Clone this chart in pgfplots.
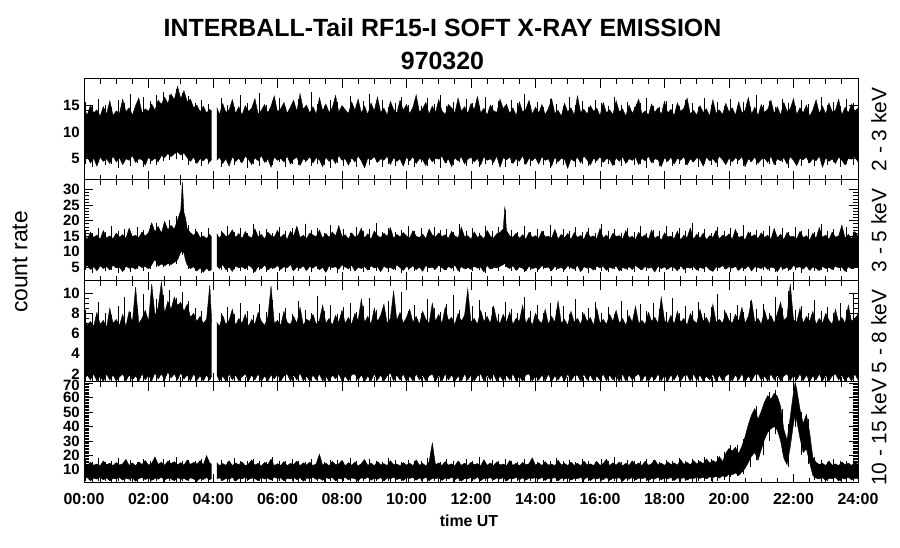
\documentclass[border=0pt]{standalone}
\usepackage{fontspec}
\setmainfont{Liberation Sans}
\usepackage{pgfplots}
\usepackage{pgfplotstable}
\usepgfplotslibrary{fillbetween}
\pgfplotsset{compat=1.18}

% ---------------- Panel 1 : 2 - 3 keV ----------------
\pgfplotstableread{
t hi lo
0.0 14.5 4.6
0.1 13.2 5.4
0.2 15.1 4.2
0.3 13.6 5.1
0.4 14.2 3.6
0.5 13.0 5.3
0.6 14.8 4.5
0.7 13.4 5.0
0.8 15.9 4.1
0.9 13.1 5.5
1.0 14.0 4.4
1.1 13.5 5.2
1.2 16.2 3.9
1.3 13.8 5.0
1.4 14.6 4.7
1.5 13.2 5.6
1.6 15.0 4.3
1.7 16.4 5.0
1.8 13.6 4.8
1.9 14.4 3.8
2.0 13.9 5.3
2.1 15.3 4.6
2.2 14.1 5.1
2.3 16.0 4.4
2.4 15.2 5.6
2.5 16.6 5.2
2.6 15.4 6.0
2.7 17.2 5.4
2.8 16.1 5.9
2.9 18.6 6.3
3.0 16.3 5.7
3.1 17.8 6.1
3.2 15.7 5.2
3.3 16.2 4.5
3.4 14.6 5.3
3.5 15.1 4.1
3.6 13.8 5.0
3.7 14.9 4.6
3.8 13.6 5.2
3.9 14.3 4.4
3.96 13.9 4.9
}\PoneA
\pgfplotstableread{
t hi lo
4.12 14.6 4.7
4.2 13.3 5.3
4.3 15.4 4.1
4.4 13.7 5.0
4.5 14.2 3.6
4.6 16.1 5.4
4.7 13.5 4.5
4.8 14.8 5.1
4.9 13.2 4.2
5.0 15.0 5.5
5.1 13.9 4.9
5.2 14.5 3.9
5.3 16.3 5.2
5.4 13.4 4.6
5.5 14.1 5.6
5.6 15.2 4.3
5.7 13.6 5.0
5.8 14.9 3.4
5.9 16.8 5.3
6.0 13.8 4.7
6.1 14.4 5.1
6.2 15.6 4.4
6.3 13.5 5.5
6.4 14.7 4.0
6.5 16.0 4.9
6.6 13.9 5.3
6.7 17.2 3.7
6.8 14.3 5.0
6.9 15.1 4.6
7.0 13.6 5.4
7.1 14.8 4.2
7.2 13.4 5.2
7.3 16.5 4.8
7.4 14.0 3.5
7.5 15.3 5.3
7.6 13.7 4.5
7.7 14.6 5.1
7.8 16.9 4.1
7.9 13.8 5.6
8.0 15.0 4.7
8.1 14.2 5.0
8.2 13.5 3.8
8.3 15.7 5.2
8.4 14.1 4.4
8.5 16.2 5.5
8.6 13.6 4.6
8.7 14.9 3.3
8.8 13.3 5.1
8.9 15.5 4.8
9.0 14.0 5.4
9.1 16.6 4.3
9.2 13.7 5.0
9.3 14.5 4.7
9.4 13.2 5.5
9.5 15.8 3.9
9.6 14.3 5.2
9.7 13.6 4.5
9.8 16.0 5.0
9.9 14.1 3.6
10.0 15.2 5.3
10.1 13.5 4.6
10.2 14.7 5.4
10.3 17.0 4.1
10.4 13.8 5.0
10.5 14.4 4.8
10.6 15.6 3.7
10.7 13.4 5.3
10.8 14.9 4.4
10.9 13.7 5.1
11.0 16.1 4.9
11.1 14.0 5.5
11.2 13.3 4.2
11.3 15.2 5.0
11.4 14.6 3.5
11.5 13.6 5.2
11.6 16.4 4.6
11.7 13.9 5.4
11.8 14.8 4.0
11.9 13.5 4.9
12.0 15.4 5.3
12.1 14.2 4.4
12.2 16.7 5.1
12.3 13.6 3.8
12.4 14.5 5.4
12.5 13.2 4.7
12.6 15.1 5.0
12.7 14.0 4.3
12.8 13.7 5.5
12.9 16.2 3.4
13.0 14.4 5.2
13.1 15.3 4.8
13.2 13.5 5.3
13.3 14.6 4.1
13.4 13.1 5.0
13.5 15.7 4.5
13.6 13.8 5.6
13.7 14.3 3.9
13.8 16.0 5.1
13.9 13.4 4.6
14.0 14.7 5.2
14.1 13.6 4.0
14.2 15.2 5.4
14.3 13.3 4.7
14.4 14.4 5.0
14.5 16.3 3.6
14.6 13.5 5.3
14.7 14.1 4.4
14.8 13.0 5.1
14.9 15.4 4.9
15.0 13.8 3.2
15.1 14.6 5.0
15.2 13.2 4.5
15.3 16.8 5.3
15.4 13.7 4.2
15.5 14.3 5.5
15.6 13.4 4.8
15.7 15.0 3.8
15.8 13.9 5.1
15.9 14.5 4.6
16.0 13.1 5.4
16.1 15.6 4.3
16.2 13.6 5.0
16.3 14.2 4.9
16.4 13.3 3.7
16.5 15.9 5.2
16.6 13.8 4.5
16.7 14.4 5.4
16.8 13.0 4.1
16.9 15.1 5.0
17.0 13.5 4.7
17.1 14.7 5.3
17.2 16.2 3.9
17.3 13.4 5.1
17.4 14.0 4.6
17.5 13.2 5.5
17.6 15.3 4.2
17.7 13.7 5.0
17.8 14.6 4.8
17.9 13.3 3.5
18.0 15.8 5.2
18.1 13.6 4.5
18.2 14.3 5.3
18.3 13.1 4.0
18.4 15.5 5.1
18.5 13.9 4.7
18.6 14.5 5.4
18.7 16.4 3.8
18.8 13.4 5.0
18.9 14.1 4.4
19.0 13.2 5.2
19.1 15.0 4.9
19.2 13.7 3.6
19.3 14.4 5.3
19.4 13.0 4.6
19.5 16.1 5.0
19.6 13.5 4.2
19.7 14.2 5.5
19.8 13.3 4.8
19.9 15.4 3.9
20.0 13.8 5.1
20.1 14.6 4.4
20.2 13.2 5.2
20.3 15.7 4.7
20.4 13.6 5.4
20.5 14.1 3.5
20.6 16.5 5.0
20.7 13.4 4.5
20.8 14.7 5.3
20.9 13.1 4.1
21.0 15.2 4.9
21.1 13.7 5.1
21.2 14.3 4.3
21.3 16.0 5.5
21.4 13.5 3.9
21.5 14.8 5.0
21.6 13.2 4.6
21.7 15.6 5.2
21.8 13.9 4.0
21.9 14.4 5.4
22.0 16.3 4.7
22.1 13.3 3.7
22.2 14.6 5.1
22.3 13.6 4.8
22.4 15.1 5.3
22.5 13.0 4.2
22.6 14.2 5.0
22.7 16.1 4.6
22.8 13.5 5.5
22.9 14.9 3.4
23.0 13.4 5.2
23.1 15.5 4.5
23.2 13.8 5.0
23.3 14.1 4.1
23.4 16.2 5.3
23.5 13.2 4.7
23.6 14.7 3.8
23.7 13.6 5.1
23.8 15.3 4.9
23.9 13.9 5.4
24.0 14.5 4.4
}\PoneB
\pgfplotstableread{
t up dn
0.05 15.6 4.0
0.25 14.9 3.4
0.45 16.3 4.3
0.65 15.2 3.8
0.85 14.7 4.1
1.05 16.0 3.2
1.25 15.4 4.4
1.45 17.1 3.7
1.65 15.0 4.2
1.85 16.6 3.5
2.05 15.8 4.0
2.25 17.0 3.9
2.45 17.6 4.6
2.65 16.9 4.8
2.85 18.2 5.0
3.05 17.4 4.7
3.25 16.8 3.9
3.45 15.5 4.2
3.65 16.1 3.6
3.85 15.3 4.0
4.25 16.4 3.5
4.45 15.1 4.2
4.65 14.8 3.8
4.85 16.9 4.4
5.05 15.5 3.3
5.25 14.9 4.1
5.45 17.3 3.7
5.65 15.2 4.3
5.85 15.9 3.9
6.05 16.5 4.4
6.25 14.8 3.4
6.45 15.7 4.0
6.65 16.2 3.8
6.85 15.0 4.3
7.05 17.5 3.6
7.25 15.3 4.1
7.45 14.9 3.9
7.65 16.0 3.3
7.85 15.6 4.2
8.05 14.7 3.7
8.25 16.8 4.4
8.45 15.2 3.5
8.65 15.9 4.0
8.85 17.2 3.8
9.05 15.0 4.3
9.25 16.1 3.4
9.45 14.8 4.1
9.65 15.5 3.6
9.85 16.7 4.2
10.05 15.1 3.9
10.25 15.8 3.5
10.45 14.9 4.3
10.65 16.4 3.7
10.85 15.3 4.0
11.05 17.0 3.3
11.25 15.0 4.2
11.45 15.7 3.8
11.65 14.8 4.4
11.85 16.3 3.6
12.05 15.4 4.1
12.25 14.9 3.5
12.45 16.6 4.0
12.65 15.2 3.9
12.85 15.8 4.3
13.05 14.7 3.4
13.25 16.1 4.2
13.45 15.5 3.7
13.65 17.1 4.0
13.85 15.0 3.6
14.05 15.6 4.3
14.25 14.8 3.9
14.45 16.2 3.3
14.65 15.3 4.1
14.85 14.9 3.8
15.05 16.6 4.4
15.25 15.1 3.5
15.45 15.8 4.0
15.65 14.7 3.7
15.85 16.0 4.2
16.05 15.4 3.4
16.25 14.9 4.1
16.45 16.7 3.9
16.65 15.2 3.6
16.85 15.7 4.3
17.05 14.8 3.8
17.25 15.5 4.0
17.45 16.4 3.3
17.65 15.0 4.2
17.85 14.7 3.7
18.05 15.9 4.4
18.25 15.3 3.6
18.45 14.9 4.0
18.65 16.1 3.8
18.85 15.4 4.3
19.05 14.8 3.5
19.25 16.5 4.1
19.45 15.1 3.9
19.65 15.7 3.4
19.85 14.9 4.2
20.05 16.2 3.7
20.25 15.0 4.0
20.45 15.6 3.6
20.65 14.8 4.3
20.85 16.9 3.8
21.05 15.2 3.5
21.25 15.8 4.1
21.45 14.7 3.9
21.65 16.3 4.4
21.85 15.5 3.3
22.05 14.9 4.0
22.25 16.0 3.7
22.45 15.3 4.2
22.65 14.8 3.6
22.85 16.6 4.0
23.05 15.1 3.8
23.25 15.7 4.3
23.45 14.9 3.5
23.65 16.2 4.1
23.85 15.4 3.9
}\PoneS

% ---------------- Panel 2 : 3 - 5 keV ----------------
\pgfplotstableread{
t hi lo
0.0 15.2 4.9
0.1 14.1 5.6
0.2 16.3 4.3
0.3 14.6 5.2
0.4 15.4 3.9
0.5 14.0 5.5
0.6 16.8 4.6
0.7 14.4 5.3
0.8 15.1 4.1
0.9 14.2 5.7
1.0 16.0 4.8
1.1 14.7 5.1
1.2 15.5 3.6
1.3 14.3 5.4
1.4 17.6 4.7
1.5 14.9 5.0
1.6 15.3 4.4
1.7 14.5 5.6
1.8 16.4 4.9
1.9 15.0 5.3
2.0 16.1 4.5
2.1 19.3 5.8
2.2 16.4 7.6
2.3 18.2 5.4
2.4 16.0 6.1
2.5 19.8 5.5
2.6 17.1 6.2
2.7 18.5 5.9
2.8 17.3 6.6
2.9 20.2 7.4
3.0 23.4 9.8
3.05 32.5 10.2
3.1 22.6 9.6
3.15 20.8 7.2
3.2 17.4 5.8
3.3 16.1 4.6
3.4 15.3 5.2
3.5 16.6 3.8
3.6 14.5 4.9
3.7 15.1 3.4
3.8 14.2 4.7
3.9 15.6 3.9
3.96 14.6 4.5
}\PtwoA
\pgfplotstableread{
t hi lo
4.12 15.8 5.4
4.2 14.3 4.6
4.3 16.2 5.9
4.4 14.9 4.2
4.5 15.4 5.1
4.6 17.1 3.7
4.7 14.6 5.5
4.8 15.9 4.8
4.9 14.2 5.2
5.0 16.5 4.4
5.1 15.0 5.7
5.2 14.4 4.9
5.3 17.4 3.5
5.4 14.8 5.3
5.5 15.6 4.5
5.6 14.1 5.8
5.7 16.3 4.1
5.8 15.2 5.0
5.9 14.7 4.7
6.0 16.9 5.6
6.1 14.5 4.3
6.2 15.7 5.2
6.3 14.0 4.8
6.4 16.6 5.9
6.5 15.1 3.9
6.6 18.2 5.1
6.7 14.6 4.6
6.8 15.3 5.5
6.9 14.2 4.0
7.0 16.0 5.3
7.1 15.4 4.7
7.2 14.8 5.6
7.3 17.0 4.2
7.4 14.3 5.0
7.5 15.9 3.4
7.6 14.6 5.4
7.7 16.4 4.9
7.8 15.0 5.2
7.9 18.4 4.4
8.0 14.9 5.8
8.1 15.5 5.1
8.2 14.1 4.5
8.3 16.1 5.7
8.4 14.7 3.8
8.5 15.3 5.0
8.6 17.6 4.6
8.7 14.4 5.3
8.8 15.8 4.1
8.9 14.0 5.5
9.0 16.7 4.8
9.1 15.2 5.2
9.2 14.5 3.6
9.3 16.0 5.4
9.4 14.9 4.7
9.5 17.8 5.0
9.6 14.3 4.3
9.7 15.6 5.8
9.8 14.8 4.9
9.9 16.2 4.0
10.0 15.1 5.3
10.1 14.4 4.6
10.2 16.8 5.5
10.3 15.0 4.2
10.4 14.6 5.1
10.5 15.7 3.7
10.6 14.2 5.6
10.7 17.3 4.8
10.8 15.4 5.0
10.9 14.7 4.4
11.0 16.1 5.7
11.1 14.9 4.9
11.2 15.5 4.1
11.3 14.3 5.3
11.4 16.6 4.6
11.5 15.1 5.8
11.6 14.5 3.9
11.7 17.9 5.2
11.8 14.8 4.5
11.9 15.2 5.0
12.0 14.0 4.3
12.1 16.4 5.4
12.2 14.6 4.7
12.3 15.3 5.1
12.4 14.1 3.5
12.5 16.9 5.6
12.6 15.0 4.4
12.7 14.4 5.0
12.8 15.8 4.8
12.9 16.2 5.3
13.0 17.4 5.9
13.05 24.6 6.4
13.1 16.8 5.2
13.2 15.1 4.6
13.3 14.7 5.5
13.4 16.0 4.0
13.5 14.3 5.1
13.6 15.5 4.7
13.7 14.0 3.8
13.8 16.3 5.4
13.9 14.6 4.5
14.0 15.2 5.0
14.1 14.2 4.3
14.2 16.7 5.6
14.3 14.8 4.8
14.4 15.0 5.1
14.5 14.4 3.9
14.6 17.2 5.3
14.7 14.1 4.6
14.8 15.6 5.0
14.9 14.5 4.2
15.0 15.9 5.5
15.1 14.0 4.9
15.2 16.2 4.4
15.3 14.6 5.7
15.4 15.3 3.6
15.5 13.9 5.2
15.6 16.5 4.7
15.7 14.7 5.0
15.8 15.1 4.1
15.9 14.2 5.4
16.0 17.5 4.8
16.1 14.4 5.3
16.2 15.4 4.0
16.3 13.8 5.1
16.4 16.0 4.6
16.5 14.9 5.5
16.6 15.2 3.8
16.7 14.1 5.0
16.8 16.8 4.5
16.9 14.5 5.2
17.0 15.0 4.3
17.1 13.9 5.6
17.2 16.3 4.8
17.3 14.6 4.2
17.4 15.5 5.3
17.5 14.0 4.7
17.6 17.0 5.0
17.7 14.3 3.5
17.8 15.1 5.4
17.9 13.7 4.6
18.0 16.1 5.1
18.1 14.8 4.4
18.2 15.0 5.2
18.3 14.2 4.9
18.4 16.6 3.9
18.5 13.8 5.5
18.6 15.3 4.3
18.7 14.5 5.0
18.8 17.6 4.7
18.9 14.0 5.3
19.0 15.7 4.1
19.1 14.3 5.0
19.2 16.0 4.6
19.3 13.9 5.4
19.4 15.2 4.2
19.5 14.6 3.7
19.6 16.9 5.1
19.7 14.1 4.8
19.8 15.4 5.6
19.9 14.7 4.4
20.0 15.8 5.2
20.1 14.0 4.7
20.2 17.2 5.3
20.3 14.5 4.0
20.4 15.1 5.0
20.5 13.8 4.5
20.6 16.4 5.5
20.7 14.9 3.8
20.8 15.5 5.2
20.9 14.2 4.9
21.0 16.1 4.6
21.1 14.6 5.4
21.2 15.3 4.3
21.3 14.0 5.1
21.4 17.5 4.8
21.5 14.4 3.6
21.6 15.7 5.3
21.7 13.9 4.5
21.8 16.2 5.0
21.9 14.8 4.2
22.0 15.0 5.6
22.1 14.1 4.9
22.2 16.6 5.2
22.3 14.5 4.4
22.4 15.2 5.5
22.5 13.7 4.0
22.6 16.0 5.1
22.7 14.3 4.7
22.8 17.8 3.9
22.9 14.6 5.3
23.0 15.4 4.6
23.1 14.0 5.0
23.2 16.3 4.3
23.3 14.7 5.4
23.4 15.1 4.8
23.5 18.6 5.1
23.6 14.4 3.7
23.7 15.6 5.2
23.8 14.2 4.5
23.9 16.5 5.0
24.0 15.0 4.9
}\PtwoB
\pgfplotstableread{
t up dn
0.05 17.1 4.0
0.25 16.2 3.3
0.45 17.8 4.4
0.65 16.5 3.8
0.85 18.3 4.1
1.05 16.8 3.2
1.25 17.4 4.2
1.45 16.1 3.6
1.65 18.0 4.3
1.85 16.9 3.9
2.05 18.6 4.5
2.25 19.4 5.2
2.45 18.1 5.0
2.65 20.3 5.4
2.85 21.5 6.0
3.05 26.0 9.0
3.25 18.5 4.5
3.45 17.2 3.7
3.65 16.4 3.1
3.85 17.6 3.9
4.25 16.7 4.0
4.45 18.2 3.4
4.65 16.3 4.3
4.85 17.5 3.8
5.05 16.0 4.1
5.25 18.8 3.3
5.45 16.6 4.2
5.65 17.3 3.6
5.85 16.1 4.4
6.05 18.0 3.9
6.25 16.8 3.5
6.45 17.6 4.2
6.65 16.4 3.7
6.85 19.1 4.0
7.05 16.9 3.4
7.25 17.7 4.3
7.45 16.2 3.8
7.65 18.5 4.1
7.85 16.7 3.2
8.05 17.4 4.2
8.25 16.0 3.7
8.45 18.1 4.4
8.65 16.6 3.5
8.85 17.2 4.0
9.05 19.3 3.9
9.25 16.5 4.3
9.45 17.8 3.6
9.65 16.3 4.1
9.85 17.0 3.3
10.05 18.4 4.2
10.25 16.7 3.8
10.45 17.5 4.4
10.65 16.1 3.6
10.85 18.0 4.0
11.05 16.9 3.4
11.25 17.3 4.2
11.45 16.4 3.9
11.65 19.0 3.5
11.85 16.8 4.3
12.05 17.6 3.7
12.25 16.2 4.1
12.45 18.3 3.3
12.65 16.6 4.4
12.85 17.9 3.8
13.05 23.5 5.0
13.25 17.1 3.9
13.45 16.5 4.2
13.65 18.2 3.6
13.85 16.3 4.0
14.05 17.4 3.4
14.25 16.8 4.3
14.45 18.7 3.8
14.65 16.1 4.1
14.85 17.2 3.5
15.05 16.6 4.4
15.25 18.0 3.7
15.45 16.4 4.0
15.65 17.5 3.3
15.85 16.0 4.2
16.05 18.9 3.9
16.25 16.7 3.6
16.45 17.3 4.3
16.65 16.2 3.8
16.85 17.8 4.1
17.05 16.5 3.4
17.25 18.4 4.2
17.45 16.1 3.7
17.65 17.0 4.4
17.85 16.6 3.5
18.05 18.2 4.0
18.25 16.3 3.8
18.45 17.6 4.3
18.65 16.8 3.3
18.85 19.2 4.1
19.05 16.4 3.9
19.25 17.3 3.6
19.45 16.0 4.2
19.65 18.1 3.7
19.85 16.7 4.4
20.05 17.5 3.4
20.25 16.2 4.0
20.45 18.6 3.8
20.65 16.5 4.3
20.85 17.1 3.5
21.05 16.8 4.1
21.25 18.3 3.9
21.45 16.1 3.6
21.65 17.7 4.2
21.85 16.4 3.7
22.05 18.0 4.0
22.25 16.6 3.3
22.45 17.2 4.4
22.65 16.3 3.8
22.85 18.8 4.1
23.05 16.7 3.5
23.25 17.4 4.2
23.45 16.0 3.9
23.65 17.9 3.6
23.85 16.5 4.3
}\PtwoS

% ---------------- Panel 3 : 5 - 8 keV ----------------
\pgfplotstableread{
t hi lo
0.0 7.6 1.3
0.1 6.8 1.9
0.2 7.2 1.4
0.3 6.7 2.0
0.4 8.1 1.3
0.5 6.9 1.8
0.6 7.3 1.25
0.7 6.6 2.0
0.8 8.5 1.4
0.9 7.0 1.9
1.0 7.4 1.3
1.1 6.8 1.7
1.2 7.9 2.0
1.3 6.7 1.3
1.4 8.2 1.9
1.5 7.1 1.4
1.6 10.6 1.8
1.7 7.0 1.3
1.8 7.5 2.0
1.9 8.3 1.4
2.0 7.2 1.9
2.1 10.9 1.3
2.2 7.8 2.1
2.3 8.6 1.5
2.4 11.1 2.0
2.5 8.0 1.4
2.6 9.2 2.2
2.7 8.4 1.6
2.8 9.6 2.0
2.9 8.8 1.4
3.0 9.1 2.1
3.1 8.2 1.5
3.2 8.9 1.9
3.3 7.6 1.3
3.4 8.0 2.0
3.5 7.2 1.4
3.6 7.7 1.8
3.7 7.0 1.3
3.8 7.4 1.9
3.9 10.8 1.4
3.96 7.1 1.8
}\PthreeA
\pgfplotstableread{
t hi lo
4.12 7.1 1.9
4.2 6.7 1.3
4.3 7.8 1.8
4.4 6.9 1.25
4.5 7.3 2.0
4.6 8.4 1.4
4.7 6.8 1.9
4.8 7.5 1.3
4.9 7.0 1.7
5.0 7.9 2.0
5.1 6.7 1.3
5.2 7.4 1.9
5.3 6.9 1.4
5.4 8.1 2.0
5.5 7.2 1.25
5.6 6.8 1.8
5.7 7.6 1.3
5.8 10.7 1.9
5.9 7.0 1.5
6.0 7.3 2.0
6.1 6.8 1.3
6.2 8.2 1.8
6.3 7.1 2.0
6.4 6.9 1.3
6.5 7.7 1.9
6.6 7.0 1.4
6.7 8.6 2.1
6.8 6.8 1.3
6.9 7.4 1.8
7.0 7.2 1.25
7.1 7.9 1.9
7.2 6.9 1.4
7.3 7.3 2.0
7.4 8.8 1.3
7.5 7.0 1.8
7.6 7.5 1.25
7.7 6.8 1.9
7.8 7.8 1.5
7.9 7.1 2.0
8.0 8.3 1.3
8.1 7.0 1.8
8.2 7.6 1.3
8.3 6.9 1.9
8.4 8.0 2.0
8.5 7.3 1.4
8.6 9.4 1.9
8.7 7.1 1.25
8.8 7.7 1.8
8.9 6.9 1.3
9.0 8.5 2.0
9.1 7.2 1.4
9.2 7.8 1.9
9.3 8.9 1.3
9.4 7.0 1.8
9.5 7.5 2.1
9.6 10.2 1.3
9.7 7.3 1.9
9.8 8.1 1.4
9.9 7.0 2.0
10.0 7.6 1.25
10.1 8.4 1.8
10.2 7.1 1.3
10.3 7.7 2.0
10.4 6.9 1.4
10.5 8.2 1.9
10.6 7.4 1.3
10.7 7.0 1.8
10.8 9.0 2.0
10.9 7.2 1.25
11.0 7.9 1.9
11.1 7.0 1.3
11.2 8.6 2.0
11.3 7.3 1.4
11.4 7.6 1.9
11.5 6.9 1.3
11.6 8.0 1.8
11.7 7.2 1.25
11.8 7.8 2.0
11.9 10.4 1.4
12.0 7.1 1.9
12.1 7.5 1.3
12.2 6.9 1.8
12.3 8.3 2.0
12.4 7.2 1.3
12.5 7.7 1.9
12.6 7.0 1.4
12.7 8.7 2.0
12.8 7.3 1.25
12.9 7.0 1.8
13.0 7.9 1.3
13.1 7.1 1.9
13.2 8.1 1.4
13.3 6.9 2.0
13.4 7.5 1.3
13.5 7.2 1.8
13.6 8.8 1.25
13.7 7.0 1.9
13.8 7.6 2.0
13.9 6.8 1.3
14.0 8.0 1.8
14.1 7.3 1.4
14.2 7.0 1.9
14.3 8.4 1.3
14.4 6.9 2.0
14.5 7.7 1.25
14.6 7.1 1.8
14.7 9.2 1.4
14.8 7.0 1.9
14.9 7.4 1.3
15.0 6.8 2.0
15.1 8.2 1.3
15.2 7.1 1.8
15.3 7.5 1.9
15.4 6.9 1.25
15.5 8.0 2.0
15.6 7.2 1.4
15.7 7.6 1.9
15.8 6.8 1.3
15.9 8.5 1.8
16.0 7.0 1.4
16.1 7.4 2.0
16.2 6.9 1.3
16.3 7.9 1.9
16.4 7.2 1.4
16.5 8.3 1.8
16.6 7.0 1.25
16.7 7.5 2.0
16.8 6.8 1.3
16.9 7.8 1.9
17.0 7.1 1.4
17.1 8.7 1.8
17.2 7.0 2.0
17.3 7.3 1.3
17.4 6.9 1.9
17.5 8.1 1.25
17.6 7.2 1.8
17.7 7.6 1.4
17.8 7.0 2.0
17.9 9.6 1.3
18.0 7.3 1.9
18.1 7.0 1.3
18.2 7.8 1.9
18.3 6.9 1.4
18.4 8.2 2.0
18.5 7.1 1.3
18.6 7.5 1.8
18.7 6.8 1.9
18.8 8.0 1.25
18.9 7.3 2.0
19.0 7.0 1.4
19.1 8.4 1.9
19.2 7.2 1.3
19.3 7.6 1.8
19.4 6.9 1.4
19.5 8.9 2.0
19.6 7.1 1.25
19.7 7.4 1.9
19.8 7.0 1.3
19.9 8.1 1.8
20.0 7.3 2.0
20.1 7.0 1.3
20.2 7.9 1.9
20.3 7.2 1.4
20.4 8.6 2.0
20.5 7.0 1.25
20.6 7.7 1.8
20.7 9.3 1.3
20.8 7.1 1.9
20.9 7.5 2.0
21.0 6.9 1.4
21.1 8.3 1.8
21.2 7.2 1.3
21.3 7.8 2.0
21.4 7.0 1.4
21.5 8.0 1.9
21.6 9.1 1.25
21.7 7.3 1.8
21.8 7.6 2.0
21.9 10.9 1.3
22.0 7.4 1.9
22.1 7.1 1.4
22.2 8.5 2.0
22.3 7.0 1.3
22.4 7.7 1.9
22.5 7.2 1.25
22.6 8.2 1.8
22.7 6.9 1.4
22.8 7.5 2.0
22.9 7.0 1.3
23.0 8.0 1.9
23.1 7.3 1.3
23.2 6.9 1.8
23.3 8.4 2.0
23.4 7.1 1.4
23.5 7.6 1.9
23.6 7.0 1.25
23.7 8.8 1.8
23.8 7.2 1.3
23.9 7.5 2.0
24.0 7.9 1.4
}\PthreeB
\pgfplotstableread{
t up dn
0.05 8.3 1.2
0.25 7.9 1.2
0.45 9.1 1.2
0.65 8.0 1.2
0.85 7.8 1.2
1.05 8.7 1.2
1.25 9.6 1.2
1.45 8.1 1.2
1.65 8.4 1.2
1.85 9.9 1.2
2.05 8.6 1.2
2.25 9.4 1.2
2.45 9.8 1.2
2.65 10.3 1.2
2.85 9.5 1.2
3.05 10.1 1.2
3.25 9.2 1.2
3.45 8.5 1.2
3.65 8.2 1.2
3.85 8.8 1.2
4.25 8.0 1.2
4.45 8.6 1.2
4.65 7.9 1.2
4.85 9.0 1.2
5.05 8.2 1.2
5.25 7.8 1.2
5.45 8.9 1.2
5.65 8.1 1.2
5.85 9.3 1.2
6.05 8.0 1.2
6.25 8.5 1.2
6.45 7.9 1.2
6.65 9.2 1.2
6.85 8.3 1.2
7.05 8.0 1.2
7.25 9.7 1.2
7.45 8.2 1.2
7.65 8.8 1.2
7.85 7.9 1.2
8.05 8.6 1.2
8.25 9.0 1.2
8.45 8.1 1.2
8.65 8.7 1.2
8.85 9.5 1.2
9.05 8.3 1.2
9.25 8.0 1.2
9.45 9.2 1.2
9.65 8.4 1.2
9.85 10.1 1.2
10.05 8.2 1.2
10.25 8.8 1.2
10.45 8.0 1.2
10.65 9.4 1.2
10.85 8.5 1.2
11.05 8.1 1.2
11.25 8.9 1.2
11.45 9.8 1.2
11.65 8.3 1.2
11.85 8.0 1.2
12.05 8.7 1.2
12.25 9.3 1.2
12.45 8.1 1.2
12.65 8.6 1.2
12.85 7.9 1.2
13.05 9.1 1.2
13.25 8.4 1.2
13.45 8.0 1.2
13.65 9.6 1.2
13.85 8.2 1.2
14.05 8.8 1.2
14.25 8.0 1.2
14.45 9.0 1.2
14.65 8.3 1.2
14.85 8.7 1.2
15.05 7.9 1.2
15.25 9.4 1.2
15.45 8.1 1.2
15.65 8.5 1.2
15.85 9.1 1.2
16.05 8.0 1.2
16.25 8.6 1.2
16.45 7.9 1.2
16.65 9.2 1.2
16.85 8.3 1.2
17.05 8.0 1.2
17.25 8.9 1.2
17.45 8.2 1.2
17.65 9.0 1.2
17.85 8.4 1.2
18.05 8.1 1.2
18.25 9.5 1.2
18.45 8.0 1.2
18.65 8.7 1.2
18.85 8.2 1.2
19.05 9.1 1.2
19.25 8.0 1.2
19.45 8.6 1.2
19.65 9.9 1.2
19.85 8.3 1.2
20.05 8.0 1.2
20.25 8.8 1.2
20.45 8.1 1.2
20.65 9.2 1.2
20.85 8.4 1.2
21.05 8.9 1.2
21.25 8.0 1.2
21.45 9.6 1.2
21.65 8.5 1.2
21.85 10.2 1.2
22.05 8.3 1.2
22.25 8.7 1.2
22.45 8.0 1.2
22.65 9.3 1.2
22.85 8.2 1.2
23.05 8.6 1.2
23.25 8.0 1.2
23.45 9.0 1.2
23.65 8.3 1.2
23.85 10.0 1.2
}\PthreeS

% ---------------- Panel 4 : 10 - 15 keV ----------------
\pgfplotstableread{
t hi lo
0.0 14.2 3.8
0.1 12.6 4.6
0.2 15.3 2.4
0.3 13.1 4.2
0.4 14.0 3.5
0.5 12.8 4.8
0.6 16.1 3.0
0.7 13.4 4.4
0.8 14.6 2.2
0.9 12.9 4.0
1.0 15.0 3.6
1.1 13.3 4.7
1.2 14.1 2.8
1.3 17.2 4.1
1.4 13.0 3.4
1.5 14.8 4.5
1.6 12.7 2.0
1.7 15.5 3.9
1.8 13.6 4.6
1.9 16.4 3.2
2.0 13.2 4.3
2.1 14.5 2.6
2.2 18.9 4.0
2.3 13.8 3.5
2.4 15.2 4.8
2.5 13.1 2.9
2.6 16.0 4.2
2.7 14.3 3.7
2.8 15.6 2.3
2.9 13.5 4.5
3.0 14.9 3.3
3.1 13.2 4.1
3.2 16.7 2.7
3.3 13.7 4.4
3.4 15.1 3.6
3.5 14.0 2.1
3.6 16.3 4.0
3.7 13.4 3.2
3.8 19.8 4.6
3.9 14.6 3.0
3.96 13.9 4.1
}\PfourA
\pgfplotstableread{
t hi lo
4.12 15.0 3.7
4.2 12.8 4.5
4.3 14.3 2.5
4.4 13.1 4.1
4.5 16.2 3.4
4.6 12.9 4.7
4.7 14.7 2.1
4.8 13.4 4.0
4.9 15.5 3.6
5.0 12.7 4.8
5.1 14.0 3.2
5.2 16.8 4.3
5.3 13.2 3.8
5.4 14.5 2.4
5.5 12.6 4.6
5.6 15.1 3.5
5.7 13.5 4.2
5.8 17.4 2.8
5.9 12.9 4.9
6.0 14.2 3.9
6.1 13.0 4.4
6.2 15.7 2.3
6.3 12.8 4.0
6.4 14.4 3.6
6.5 13.6 4.7
6.6 16.0 3.1
6.7 12.7 4.5
6.8 14.8 2.0
6.9 13.3 4.2
7.0 15.2 3.7
7.1 12.9 4.8
7.2 14.1 3.3
7.3 20.8 4.1
7.4 13.2 2.6
7.5 14.6 4.4
7.6 12.8 3.9
7.7 15.8 4.6
7.8 13.4 2.2
7.9 14.0 4.0
8.0 16.5 3.5
8.1 12.7 4.7
8.2 14.9 3.0
8.3 13.1 4.3
8.4 15.4 3.8
8.5 12.6 2.4
8.6 14.3 4.5
8.7 17.1 3.6
8.8 13.0 4.9
8.9 14.7 2.7
9.0 12.8 4.1
9.1 15.6 3.4
9.2 13.3 4.6
9.3 14.2 2.1
9.4 12.9 4.2
9.5 16.3 3.7
9.6 13.5 4.8
9.7 14.0 3.2
9.8 12.7 4.0
9.9 15.0 2.5
10.0 13.2 4.4
10.1 14.5 3.9
10.2 12.8 4.7
10.3 16.9 2.8
10.4 13.1 4.3
10.5 14.4 3.5
10.6 12.6 4.9
10.7 15.3 2.3
10.8 28.6 4.1
10.9 13.4 3.8
11.0 14.8 4.5
11.1 12.9 2.6
11.2 15.7 4.2
11.3 13.2 3.6
11.4 14.1 4.8
11.5 12.7 3.1
11.6 16.1 4.4
11.7 13.0 2.0
11.8 14.6 4.0
11.9 12.8 3.7
12.0 15.2 4.6
12.1 13.5 3.3
12.2 14.3 4.9
12.3 12.6 2.4
12.4 17.0 4.1
12.5 13.1 3.8
12.6 14.7 4.5
12.7 12.9 2.9
12.8 15.5 4.3
12.9 13.3 3.5
13.0 14.0 4.7
13.1 12.7 2.2
13.2 16.4 4.0
13.3 13.0 3.6
13.4 14.5 4.8
13.5 12.8 3.0
13.6 15.1 4.4
13.7 13.4 2.7
13.8 14.2 4.2
13.9 18.2 3.9
14.0 13.1 4.6
14.1 14.8 3.4
14.2 12.9 4.7
14.3 15.6 2.5
14.4 13.2 4.1
14.5 14.0 3.7
14.6 12.7 4.9
14.7 16.7 2.1
14.8 13.3 4.3
14.9 14.4 3.5
15.0 12.8 4.5
15.1 15.3 2.8
15.2 13.0 4.0
15.3 14.6 3.8
15.4 12.6 4.6
15.5 16.0 3.2
15.6 13.4 4.8
15.7 14.1 2.4
15.8 12.9 4.2
15.9 15.8 3.6
16.0 13.1 4.4
16.1 14.3 3.1
16.2 17.3 4.7
16.3 12.8 2.6
16.4 14.9 4.1
16.5 13.2 3.9
16.6 15.4 4.5
16.7 12.7 2.0
16.8 14.5 4.3
16.9 13.0 3.4
17.0 16.2 4.8
17.1 13.3 2.9
17.2 14.7 4.2
17.3 12.9 3.7
17.4 15.9 4.6
17.5 13.1 2.3
17.6 14.2 4.0
17.7 16.8 3.5
17.8 13.4 4.9
17.9 14.6 3.0
18.0 13.0 4.4
18.1 15.5 3.6
18.2 13.6 4.8
18.3 14.8 2.5
18.4 13.2 4.3
18.5 17.0 3.8
18.6 13.8 4.5
18.7 15.1 2.8
18.8 13.5 4.1
18.9 16.3 3.9
19.0 14.0 4.7
19.1 15.8 4.0
19.2 14.2 4.8
19.3 17.5 3.6
19.4 14.6 5.1
19.5 16.4 4.4
19.6 15.0 5.5
19.7 19.2 4.2
19.8 15.6 5.8
19.9 21.4 5.0
20.0 24.8 7.2
20.1 23.0 6.5
20.2 25.6 7.8
20.3 21.2 6.0
20.4 26.4 8.5
20.5 33.0 11.0
20.6 41.5 15.0
20.7 48.0 19.5
20.8 52.5 22.0
20.9 45.0 16.5
21.0 50.5 24.0
21.1 57.0 31.0
21.2 61.5 36.0
21.3 59.0 38.5
21.4 63.0 40.0
21.5 61.0 37.5
21.6 54.0 30.0
21.7 38.0 18.0
21.8 30.5 13.5
21.9 47.0 26.0
22.0 64.0 42.0
22.05 70.5 48.0
22.1 66.0 44.0
22.2 52.0 32.0
22.3 42.0 22.0
22.4 48.5 24.5
22.5 36.0 15.0
22.6 18.5 6.0
22.7 15.2 4.2
22.8 13.6 3.6
22.9 14.4 4.5
23.0 12.9 2.6
23.1 16.0 4.0
23.2 13.2 3.7
23.3 14.1 4.6
23.4 12.8 2.2
23.5 15.4 4.3
23.6 13.5 3.5
23.7 14.6 4.8
23.8 13.0 3.0
23.9 15.1 4.1
24.0 13.7 3.8
}\PfourB
\pgfplotstableread{
t up dn
0.05 16.8 2.0
0.25 15.2 1.6
0.45 17.9 2.4
0.65 15.6 1.9
0.85 16.4 1.4
1.05 18.3 2.2
1.25 15.9 1.7
1.45 16.9 2.5
1.65 15.4 1.5
1.85 17.5 2.1
2.05 16.2 1.8
2.25 15.7 2.3
2.45 17.8 1.6
2.65 16.5 2.0
2.85 18.6 1.4
3.05 15.8 2.4
3.25 17.1 1.9
3.45 16.0 1.6
3.65 17.6 2.2
3.85 16.3 1.7
4.25 16.6 2.0
4.45 15.5 1.5
4.65 18.1 2.3
4.85 16.2 1.8
5.05 15.9 2.5
5.25 17.4 1.6
5.45 16.0 2.1
5.65 15.3 1.4
5.85 18.7 2.2
6.05 16.4 1.9
6.25 15.8 1.7
6.45 17.2 2.4
6.65 16.1 1.5
6.85 15.6 2.0
7.05 17.7 1.8
7.25 16.3 2.3
7.45 15.4 1.6
7.65 17.0 2.1
7.85 16.8 1.4
8.05 15.5 2.2
8.25 18.4 1.9
8.45 16.2 1.7
8.65 15.9 2.5
8.85 17.3 1.5
9.05 16.0 2.0
9.25 15.6 1.8
9.45 17.9 2.3
9.65 16.5 1.6
9.85 15.3 2.1
10.05 17.1 1.4
10.25 16.4 2.2
10.45 15.8 1.9
10.65 18.0 1.7
10.85 16.1 2.4
11.05 15.5 1.5
11.25 17.6 2.0
11.45 16.3 1.8
11.65 15.7 2.3
11.85 17.2 1.6
12.05 16.0 2.1
12.25 18.5 1.4
12.45 15.4 2.2
12.65 16.7 1.9
12.85 15.9 1.7
13.05 17.4 2.4
13.25 16.2 1.5
13.45 15.6 2.0
13.65 17.8 1.8
13.85 16.4 2.3
14.05 15.3 1.6
14.25 17.0 2.1
14.45 16.1 1.4
14.65 18.2 2.2
14.85 15.8 1.9
15.05 16.6 1.7
15.25 15.5 2.4
15.45 17.5 1.5
15.65 16.3 2.0
15.85 15.7 1.8
16.05 17.3 2.3
16.25 16.0 1.6
16.45 18.8 2.1
16.65 15.4 1.4
16.85 16.9 2.2
17.05 16.2 1.9
17.25 15.9 1.7
17.45 17.7 2.4
17.65 16.5 1.5
17.85 15.6 2.0
18.05 17.1 1.8
18.25 16.4 2.3
18.45 18.3 1.6
18.65 16.0 2.1
18.85 17.6 1.4
19.05 16.7 2.2
19.25 18.9 1.9
19.45 17.3 2.5
19.65 19.8 2.0
19.85 22.6 2.8
20.05 27.0 5.0
20.25 27.5 5.5
20.45 31.0 7.0
20.65 46.0 12.0
20.85 54.0 17.0
21.05 55.0 20.0
21.25 64.0 30.0
21.45 65.0 35.0
21.65 52.0 22.0
21.85 42.0 12.0
22.05 70.0 40.0
22.25 50.0 20.0
22.45 45.0 14.0
22.65 19.0 3.0
22.85 16.8 1.7
23.05 15.5 2.3
23.25 17.4 1.6
23.45 16.1 2.0
23.65 15.8 1.8
23.85 17.9 2.4
}\PfourS

\pgfplotsset{
  panel/.style={
    scale only axis, width=774bp, height=101bp, anchor=south west,
    xmin=0, xmax=24, xtick={0,2,...,24}, minor x tick num=3,
    xtick pos=both, ytick pos=both, tick align=inside,
    major tick length=9bp, minor tick length=5bp,
    axis line style={line width=1bp},
    every tick/.style={black, line width=0.8bp},
    xticklabels={},
    /pgf/number format/assume math mode=true,
    yticklabel style={font=\bfseries\fontsize{15}{15}\selectfont, inner ysep=0bp, inner xsep=4bp},
    xticklabel style={font=\bfseries\fontsize{16}{16}\selectfont, yshift=-7bp},
  },
  band/.style={black, line width=0.4bp, no markers},
  spikes/.style={draw=none, no markers,
    error bars/.cd, y dir=minus, y explicit, error mark=none,
    error bar style={black, line width=0.7bp}},
}

\begin{document}
\begin{tikzpicture}
\path (0,0) rectangle (900bp,548bp);

% Panel 1
\begin{axis}[panel, at={(84bp,368bp)}, ymin=1, ymax=20, ytick={5,10,15}, minor y tick num=4]
\addplot[band, name path=ha] table[x=t,y=hi]{\PoneA};
\addplot[band, name path=la] table[x=t,y=lo]{\PoneA};
\addplot[black] fill between[of=ha and la];
\addplot[band, name path=hb] table[x=t,y=hi]{\PoneB};
\addplot[band, name path=lb] table[x=t,y=lo]{\PoneB};
\addplot[black] fill between[of=hb and lb];
\addplot[spikes] table[x=t, y=up, y error minus expr=\thisrow{up}-\thisrow{dn}]{\PoneS};
\end{axis}

% Panel 2
\begin{axis}[panel, at={(84bp,267bp)}, ymin=0.6, ymax=33.1, ytick={5,10,...,30}, minor y tick num=4]
\addplot[band, name path=ha] table[x=t,y=hi]{\PtwoA};
\addplot[band, name path=la] table[x=t,y=lo]{\PtwoA};
\addplot[black] fill between[of=ha and la];
\addplot[band, name path=hb] table[x=t,y=hi]{\PtwoB};
\addplot[band, name path=lb] table[x=t,y=lo]{\PtwoB};
\addplot[black] fill between[of=hb and lb];
\addplot[spikes] table[x=t, y=up, y error minus expr=\thisrow{up}-\thisrow{dn}]{\PtwoS};
\end{axis}

% Panel 3
\begin{axis}[panel, at={(84bp,166bp)}, ymin=1.2, ymax=11.2, ytick={2,4,...,10}, minor y tick num=3]
\addplot[band, name path=ha] table[x=t,y=hi]{\PthreeA};
\addplot[band, name path=la] table[x=t,y=lo]{\PthreeA};
\addplot[black] fill between[of=ha and la];
\addplot[band, name path=hb] table[x=t,y=hi]{\PthreeB};
\addplot[band, name path=lb] table[x=t,y=lo]{\PthreeB};
\addplot[black] fill between[of=hb and lb];
\addplot[spikes] table[x=t, y=up, y error minus expr=\thisrow{up}-\thisrow{dn}]{\PthreeS};
\end{axis}

% Panel 4
\begin{axis}[panel, at={(84bp,65bp)}, ymin=0.8, ymax=70.9, ytick={10,20,...,70}, minor y tick num=9,
  yticklabels={10,20,30,40,50,60,{}},
  extra y ticks={70}, extra y tick labels={70},
  extra y tick style={yticklabel style={yshift=-2.5bp}},
  xticklabels={00:00,02:00,04:00,06:00,08:00,10:00,12:00,14:00,16:00,18:00,20:00,22:00,24:00}]
\addplot[band, name path=ha] table[x=t,y=hi]{\PfourA};
\addplot[band, name path=la] table[x=t,y=lo]{\PfourA};
\addplot[black] fill between[of=ha and la];
\addplot[band, name path=hb] table[x=t,y=hi]{\PfourB};
\addplot[band, name path=lb] table[x=t,y=lo]{\PfourB};
\addplot[black] fill between[of=hb and lb];
\addplot[spikes] table[x=t, y=up, y error minus expr=\thisrow{up}-\thisrow{dn}]{\PfourS};
\end{axis}

% Titles and labels
\node[anchor=base, inner sep=0, font=\bfseries\fontsize{25}{25}\selectfont] at (442.5bp,511bp) {INTERBALL-Tail RF15-I SOFT X-RAY EMISSION};
\node[anchor=base, inner sep=0, font=\bfseries\fontsize{25}{25}\selectfont] at (442.5bp,478bp) {970320};
\node[anchor=base, inner sep=0, font=\bfseries\fontsize{16}{16}\selectfont] at (469bp,22bp) {time UT};
\node[rotate=90, inner sep=0, font=\fontsize{23}{23}\selectfont] at (20bp,286bp) {count rate};
\node[rotate=90, inner sep=0, font=\fontsize{21}{21}\selectfont] at (879bp,418.5bp) {2 - 3 keV};
\node[rotate=90, inner sep=0, font=\fontsize{21}{21}\selectfont] at (879bp,317.5bp) {3 - 5 keV};
\node[rotate=90, inner sep=0, font=\fontsize{21}{21}\selectfont] at (879bp,216.5bp) {5 - 8 keV};
\node[rotate=90, inner sep=0, font=\fontsize{21}{21}\selectfont] at (879bp,115.5bp) {10 - 15 keV};
\end{tikzpicture}
\end{document}
